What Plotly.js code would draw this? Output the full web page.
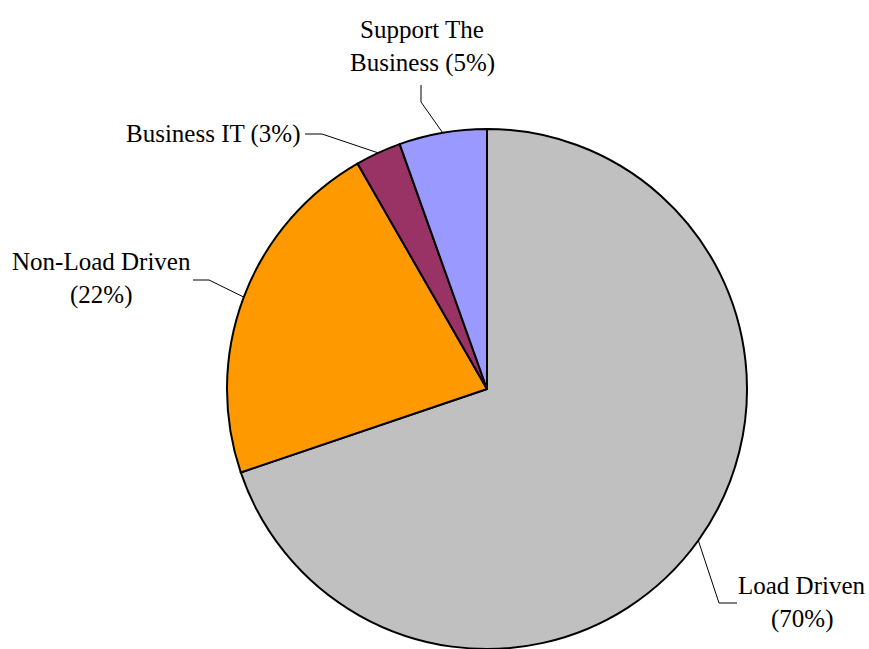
<!DOCTYPE html>
<html>
<head>
<meta charset="utf-8">
<script src="https://cdn.plot.ly/plotly-3.0.1.min.js"></script>
<style>html,body{margin:0;padding:0;overflow:hidden;background:#fff;}</style>
</head>
<body>
<div id="chart"></div>
<script>
// ---- data ----
const labels = ["Load Driven", "Non-Load Driven", "Business IT", "Support The Business"];
const values = [69.8, 21.9, 2.85, 5.45];
const colors = ["#C0C0C0", "#FF9900", "#993366", "#9999FF"];
const labelLines = [["Load Driven", "(70%)"], ["Non-Load Driven", "(22%)"], ["Business IT (3%)"], ["Support The", "Business (5%)"]];

// ---- layout geometry (pixels) ----
const W = 869, H = 660;
const M = {l: 227, r: 122, t: 129, b: 11};
const PW = W - M.l - M.r, PH = H - M.t - M.b;
const cx = M.l + PW / 2, cy = M.t + PH / 2, R = Math.min(PW, PH) / 2;
const px = x => (x - M.l) / PW;
const py = y => (H - M.b - y) / PH;

// label placement: elbow point, end point, text x, first line centre y, anchor
const LINE_PITCH = 34;
const place = [
  {elbow: [719, 603], end: [737, 603], tx: 802, ty: 585, anchor: "center"},
  {elbow: [209, 280], end: [193, 280], tx: 101, ty: 261, anchor: "center"},
  {elbow: [322, 134], end: [305, 134], tx: 303, ty: 134, anchor: "right"},
  {elbow: [421, 102], end: [421, 85], tx: 422, ty: 29, anchor: "center"}
];

const total = values.reduce((a, b) => a + b, 0);
let cum = 0;
const shapes = [], annotations = [];
values.forEach((v, i) => {
  const mid = (cum + v / 2) / total * 2 * Math.PI; cum += v;
  const sx = cx + R * Math.sin(mid), sy = cy - R * Math.cos(mid);
  const p = place[i];
  shapes.push({type: "path", xref: "paper", yref: "paper",
    path: `M${px(sx)},${py(sy)} L${px(p.elbow[0])},${py(p.elbow[1])} L${px(p.end[0])},${py(p.end[1])}`,
    line: {color: "#000", width: 1}});
  labelLines[i].forEach((t, k) => {
    annotations.push({xref: "paper", yref: "paper", x: px(p.tx), y: py(p.ty + k * LINE_PITCH),
      xanchor: p.anchor, yanchor: "middle", text: t, showarrow: false,
      font: {family: "Liberation Serif, Times New Roman, serif", size: 25, color: "#000"}});
  });
});

const trace = {
  type: "pie", labels: labels, values: values, sort: false, direction: "clockwise", rotation: 0,
  marker: {colors: colors, line: {color: "#000", width: 2}},
  textinfo: "none", hoverinfo: "label+percent"
};
Plotly.newPlot("chart", [trace], {
  width: W, height: H, margin: M, showlegend: false,
  paper_bgcolor: "#fff", plot_bgcolor: "#fff",
  shapes: shapes, annotations: annotations
}, {displayModeBar: false, staticPlot: true});
</script>
</body>
</html>
